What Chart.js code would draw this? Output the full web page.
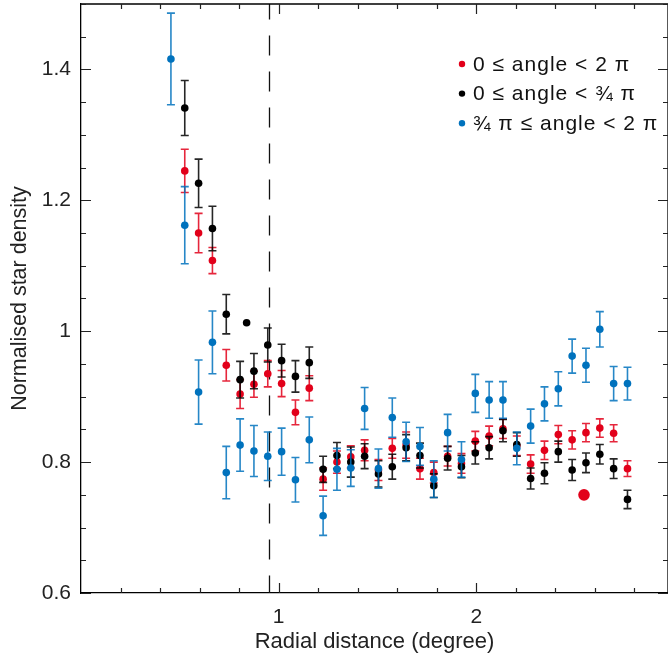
<!DOCTYPE html>
<html>
<head>
<meta charset="utf-8">
<script src="https://cdn.jsdelivr.net/npm/chart.js@4.4.1/dist/chart.umd.min.js"></script>
<style>
  html, body { margin: 0; padding: 0; background: #fff; overflow: hidden; }
  canvas { display: block; }
</style>
</head>
<body>
<canvas id="c" width="668" height="658"></canvas>
<script>
// ---- data ----
const radialBins = [0.455, 0.525, 0.595, 0.665, 0.735, 0.805, 0.875, 0.945, 1.015, 1.085,
  1.155, 1.225, 1.295, 1.365, 1.435, 1.505, 1.575, 1.645, 1.715, 1.785,
  1.855, 1.925, 1.995, 2.065, 2.135, 2.205, 2.275, 2.345, 2.415, 2.485,
  2.555, 2.625, 2.695, 2.765];

const labelAll = "0 \u2264 angle < 2 \u03c0";
const labelNorth = "0 \u2264 angle < \u00be \u03c0";
const labelRest = "\u00be \u03c0 \u2264 angle < 2 \u03c0";

const densityAll = [null, 1.245, 1.150, 1.108, 0.948, 0.904, 0.919, 0.935, 0.920, 0.876,
  0.913, 0.774, 0.800, 0.808, 0.818, 0.788, 0.821, 0.826, 0.790, 0.784,
  0.809, 0.798, 0.832, 0.840, 0.851, 0.825, 0.797, 0.818, 0.842, 0.834,
  0.845, 0.852, 0.844, 0.790];
const errorAll = [null, 0.033, 0.030, 0.020, 0.024, 0.022, 0.020, 0.020, 0.020, 0.019,
  0.019, 0.017, 0.017, 0.017, 0.016, 0.016, 0.015, 0.020, 0.016, 0.016,
  0.015, 0.015, 0.015, 0.015, 0.015, 0.015, 0.014, 0.014, 0.014, 0.014,
  0.014, 0.014, 0.013, 0.012];

const densityNorth = [null, 1.341, 1.226, 1.157, 1.026, 0.926, 0.939, 0.979, 0.955, 0.931,
  0.952, 0.789, 0.810, 0.800, 0.809, 0.782, 0.793, 0.822, 0.810, 0.764,
  0.806, 0.793, 0.814, 0.822, 0.848, 0.827, 0.775, 0.783, 0.816, 0.788,
  0.799, 0.812, 0.790, 0.743];
const errorNorth = [null, 0.042, 0.037, 0.034, 0.030, 0.028, 0.027, 0.026, 0.025, 0.024,
  0.024, 0.020, 0.020, 0.023, 0.019, 0.020, 0.019, 0.020, 0.019, 0.018,
  0.018, 0.017, 0.017, 0.017, 0.017, 0.018, 0.016, 0.016, 0.016, 0.016,
  0.015, 0.015, 0.015, 0.014];

const densityRest = [1.416, 1.162, 0.907, 0.983, 0.784, 0.826, 0.817, 0.809, 0.816, 0.773,
  0.834, 0.718, 0.789, 0.791, 0.882, 0.790, 0.868, 0.831, 0.824, 0.774,
  0.845, 0.804, 0.905, 0.895, 0.895, 0.821, 0.855, 0.889, 0.912, 0.962,
  0.948, 1.003, 0.920, 0.920];
const errorRest = [0.070, 0.059, 0.049, 0.048, 0.040, 0.040, 0.039, 0.037, 0.036, 0.034,
  0.035, 0.030, 0.032, 0.028, 0.032, 0.030, 0.030, 0.030, 0.029, 0.028,
  0.028, 0.027, 0.029, 0.028, 0.028, 0.025, 0.026, 0.026, 0.026, 0.026,
  0.026, 0.027, 0.026, 0.025];

const extraNorthPoint = [{ x: 0.838, y: 1.013 }];
const bigRedPoint = [{ x: 2.545, y: 0.750 }];

const dashedLineX = 0.95;
const xTickValues = [0.2, 0.4, 0.6, 0.8, 1, 1.2, 1.4, 1.6, 1.8, 2, 2.2, 2.4, 2.6, 2.8];
const xLabelled = [1, 2];
const yTickValues = [0.6, 0.65, 0.7, 0.75, 0.8, 0.85, 0.9, 0.95, 1, 1.05, 1.1, 1.15, 1.2,
  1.25, 1.3, 1.35, 1.4, 1.45, 1.5];
const yLabelled = [0.6, 0.8, 1, 1.2, 1.4];

// ---- styles ----
const RED = 'rgb(226,0,26)';
const BLACK = '#000000';
const BLUE = 'rgb(0,114,189)';
const FONT = "'Liberation Sans', Arial, sans-serif";

function pts(vals) {
  const out = [];
  vals.forEach((v, i) => { if (v !== null) out.push({ x: radialBins[i], y: v }); });
  return out;
}
function errs(vals, e) {
  const out = [];
  vals.forEach((v, i) => { if (v !== null) out.push(e[i]); });
  return out;
}

const datasets = [
  { label: labelAll, data: pts(densityAll), errors: errs(densityAll, errorAll),
    backgroundColor: RED, borderColor: RED, pointRadius: 3.8, pointBorderWidth: 0, order: 3, legend: true },
  { label: labelNorth, data: pts(densityNorth), errors: errs(densityNorth, errorNorth),
    backgroundColor: BLACK, borderColor: BLACK, pointRadius: 3.8, pointBorderWidth: 0, order: 2, legend: true },
  { label: labelRest, data: pts(densityRest), errors: errs(densityRest, errorRest),
    backgroundColor: BLUE, borderColor: BLUE, pointRadius: 3.8, pointBorderWidth: 0, order: 1, legend: true },
  { label: 'extra', data: extraNorthPoint, backgroundColor: BLACK, borderColor: BLACK,
    pointRadius: 3.8, pointBorderWidth: 0, order: 2 },
  { label: 'marker', data: bigRedPoint, backgroundColor: RED, borderColor: RED,
    pointRadius: 5.8, pointBorderWidth: 0, order: 0 }
];

const errorBarPlugin = {
  id: 'errorBars',
  beforeDatasetDraw(chart, args) {
    const ds = chart.data.datasets[args.index];
    if (!ds.errors) return;
    const xs = chart.scales.x, ys = chart.scales.y, ctx = chart.ctx;
    ctx.save();
    ctx.strokeStyle = ds.borderColor;
    ctx.globalAlpha = 0.85;
    ctx.lineWidth = 1.6;
    ds.data.forEach((p, i) => {
      const e = ds.errors[i];
      const px = xs.getPixelForValue(p.x);
      const y1 = ys.getPixelForValue(p.y + e);
      const y2 = ys.getPixelForValue(p.y - e);
      ctx.beginPath();
      ctx.moveTo(px, y1); ctx.lineTo(px, y2);
      ctx.moveTo(px - 4, y1); ctx.lineTo(px + 4, y1);
      ctx.moveTo(px - 4, y2); ctx.lineTo(px + 4, y2);
      ctx.stroke();
    });
    ctx.restore();
  }
};

const framePlugin = {
  id: 'frame',
  beforeDatasetsDraw(chart) {
    const { ctx, chartArea: a } = chart;
    const xs = chart.scales.x, ys = chart.scales.y;
    ctx.save();
    // dashed line
    ctx.strokeStyle = '#111';
    ctx.lineWidth = 1.3;
    ctx.setLineDash([20, 16]);
    ctx.lineDashOffset = 4.5;
    const dx = Math.round(xs.getPixelForValue(dashedLineX)) + 0.5;
    ctx.beginPath(); ctx.moveTo(dx, a.top); ctx.lineTo(dx, a.bottom); ctx.stroke();
    ctx.setLineDash([]);
    // frame
    ctx.strokeStyle = '#000';
    ctx.lineWidth = 1.3;
    ctx.beginPath();
    ctx.moveTo(a.left, a.top); ctx.lineTo(a.right, a.top);
    ctx.moveTo(a.right, a.top); ctx.lineTo(a.right, a.bottom);
    ctx.stroke();
    // ticks
    ctx.strokeStyle = '#222';
    ctx.lineWidth = 1.2;
    ctx.beginPath();
    xTickValues.forEach(v => {
      const len = xLabelled.includes(v) ? 10 : 5;
      const px = Math.round(xs.getPixelForValue(v)) + 0.5;
      ctx.moveTo(px, a.bottom); ctx.lineTo(px, a.bottom - len);
      ctx.moveTo(px, a.top); ctx.lineTo(px, a.top + len);
    });
    yTickValues.forEach(v => {
      const len = yLabelled.some(l => Math.abs(l - v) < 1e-6) ? 10 : 5;
      const py = Math.round(ys.getPixelForValue(v)) + 0.5;
      ctx.moveTo(a.left, py); ctx.lineTo(a.left + len, py);
      ctx.moveTo(a.right, py); ctx.lineTo(a.right - len, py);
    });
    ctx.stroke();
    ctx.restore();
  },
  afterDraw(chart) {
    const { ctx } = chart;
    ctx.save();
    ctx.font = '21px ' + FONT;
    ctx.textBaseline = 'middle';
    if ('letterSpacing' in ctx) ctx.letterSpacing = '1px';
    const items = chart.data.datasets.filter(d => d.legend);
    const x0 = 462, y0 = 64, step = 29.6;
    items.forEach((d, i) => {
      const y = y0 + i * step;
      ctx.beginPath();
      ctx.fillStyle = d.backgroundColor;
      ctx.arc(x0, y, 3.2, 0, Math.PI * 2);
      ctx.fill();
      ctx.fillStyle = '#111';
      ctx.fillText(d.label, x0 + 11, y + 1);
    });
    ctx.restore();
  }
};

new Chart(document.getElementById('c'), {
  type: 'scatter',
  data: { datasets },
  plugins: [errorBarPlugin, framePlugin],
  options: {
    responsive: false,
    animation: false,
    devicePixelRatio: 1,
    layout: { autoPadding: false, padding: { top: 4, right: 0, left: 0, bottom: 0 } },
    plugins: { legend: { display: false }, tooltip: { enabled: false } },
    elements: { point: { pointStyle: 'circle' } },
    scales: {
      x: {
        type: 'linear', min: 0, max: 2.97,
        grid: { display: false, drawTicks: false },
        border: { display: true, color: '#000', width: 1.3 },
        ticks: {
          stepSize: 0.2, autoSkip: false, maxRotation: 0, padding: 12,
          color: '#222', font: { family: FONT, size: 21 },
          callback: v => (xLabelled.some(l => Math.abs(l - v) < 1e-6) ? String(Math.round(v)) : '')
        },
        title: { display: true, text: 'Radial distance (degree)', color: '#222',
          font: { family: FONT, size: 22 }, padding: { top: 4, bottom: 3 } },
        afterFit: s => { s.height = 65; s.paddingLeft = 0; s.paddingRight = 0; }
      },
      y: {
        type: 'linear', min: 0.6, max: 1.5,
        grid: { display: false, drawTicks: false },
        border: { display: true, color: '#000', width: 1.3 },
        ticks: {
          stepSize: 0.2, padding: 10, color: '#222', font: { family: FONT, size: 21 },
          callback: v => (yLabelled.some(l => Math.abs(l - v) < 1e-6) ? String(Number(v.toFixed(2))) : '')
        },
        title: { display: true, text: 'Normalised star density', color: '#222',
          font: { family: FONT, size: 21.5 }, padding: { top: 7, bottom: 0 } },
        afterFit: s => { s.width = 81; s.paddingTop = 0; s.paddingBottom = 0; }
      }
    }
  }
});
</script>
</body>
</html>
